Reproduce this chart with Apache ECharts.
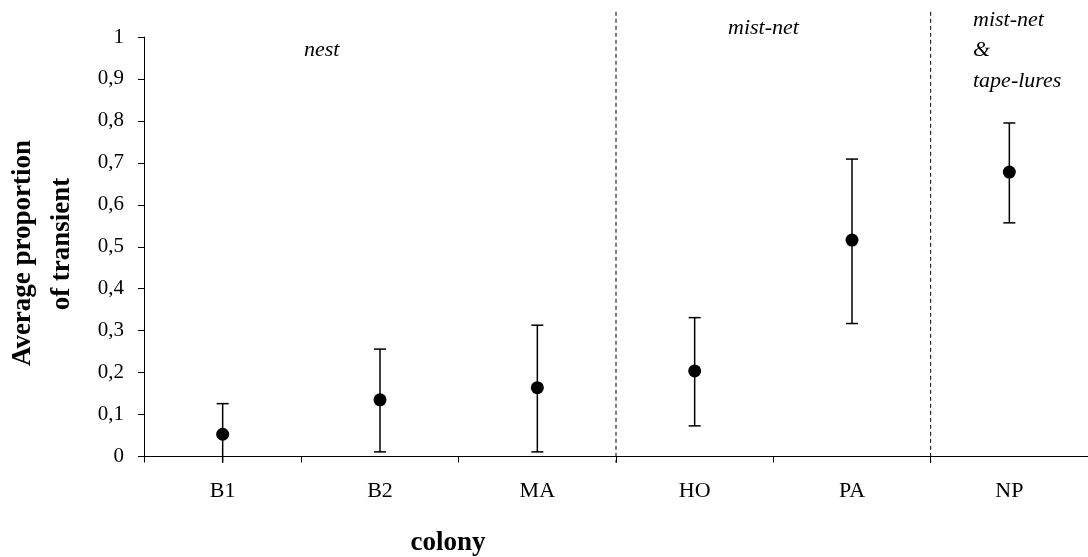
<!DOCTYPE html>
<html>
<head>
<meta charset="utf-8">
<script src="https://cdn.jsdelivr.net/npm/echarts@6/dist/echarts.min.js"></script>
<style>html,body{margin:0;padding:0;background:#fff}#c{width:1088px;height:557px}</style>
</head>
<body>
<div id="c"></div>
<script>
const categories = ['B1', 'B2', 'MA', 'HO', 'PA', 'NP'];
const means = [0.053, 0.135, 0.164, 0.204, 0.516, 0.678];
const upper = [0.126, 0.256, 0.313, 0.331, 0.709, 0.795];
const lower = [-0.015, 0.011, 0.011, 0.073, 0.317, 0.557];
const yTickLabels = ['0', '0,1', '0,2', '0,3', '0,4', '0,5', '0,6', '0,7', '0,8', '0,9', '1'];
const separatorsAfter = ['MA', 'PA'];
const yTitleLines = ['Average proportion', 'of transient'];
const xTitle = 'colony';
const groupLabels = ['nest', 'mist-net', 'mist-net', '&', 'tape-lures'];

const SERIF = '"Liberation Serif", "Times New Roman", serif';
const chart = echarts.init(document.getElementById('c'), null, {renderer: 'canvas'});

const errData = categories.map((c, i) => [i, lower[i], upper[i]]);
const sepData = separatorsAfter.map(c => [categories.indexOf(c), 1.06, -0.015]);

chart.setOption({
  animation: false,
  backgroundColor: '#fff',
  grid: {left: 144, top: 37, width: 950, height: 419.5, containLabel: false},
  xAxis: {
    type: 'category',
    data: categories,
    boundaryGap: true,
    axisLine: {lineStyle: {color: '#000', width: 1}},
    axisTick: {show: true, length: 6, alignWithLabel: false, lineStyle: {color: '#000'}},
    axisLabel: {color: '#000', fontFamily: SERIF, fontSize: 22, margin: 24},
    splitLine: {show: false}
  },
  yAxis: {
    type: 'value',
    min: 0, max: 1, interval: 0.1,
    axisLine: {show: true, lineStyle: {color: '#000', width: 1}},
    axisTick: {show: true, length: 6, lineStyle: {color: '#000'}},
    axisLabel: {color: '#000', fontFamily: SERIF, fontSize: 21, margin: 20,
      formatter: v => yTickLabels[Math.round(v * 10)]},
    splitLine: {show: false}
  },
  series: [
    {
      type: 'custom',
      clip: false,
      data: sepData,
      encode: {x: 0, y: [1, 2]},
      renderItem: (params, api) => {
        const idx = api.value(0);
        const band = api.size([1, 0])[0];
        const top = api.coord([idx, api.value(1)]);
        const bot = api.coord([idx, api.value(2)]);
        const x = top[0] + band / 2;
        return {type: 'line', shape: {x1: x, y1: top[1], x2: x, y2: bot[1]},
          style: {stroke: '#000', lineWidth: 1, lineDash: [4, 3]}};
      },
      z: 1
    },
    {
      type: 'custom',
      clip: false,
      data: errData,
      encode: {x: 0, y: [1, 2]},
      renderItem: (params, api) => {
        const i = api.value(0);
        const lo = api.value(1), hi = api.value(2);
        const pLo = api.coord([i, lo]);
        const pHi = api.coord([i, hi]);
        const cw = 6;
        const st = {stroke: '#000', lineWidth: 1.5};
        const children = [
          {type: 'line', shape: {x1: pLo[0], y1: pLo[1], x2: pHi[0], y2: pHi[1]}, style: st},
          {type: 'line', shape: {x1: pHi[0] - cw, y1: pHi[1], x2: pHi[0] + cw, y2: pHi[1]}, style: st}
        ];
        if (lo >= 0) children.push({type: 'line', shape: {x1: pLo[0] - cw, y1: pLo[1], x2: pLo[0] + cw, y2: pLo[1]}, style: st});
        return {type: 'group', children};
      },
      z: 2
    },
    {
      type: 'scatter',
      data: means,
      symbol: 'circle',
      symbolSize: 13,
      itemStyle: {color: '#000', opacity: 1},
      z: 3
    }
  ],
  graphic: [
    {type: 'text', x: 23, y: 253, rotation: Math.PI / 2,
      style: {text: yTitleLines[0], font: 'bold 27px ' + SERIF, fill: '#000', textAlign: 'center', textVerticalAlign: 'middle'}},
    {type: 'text', x: 62, y: 244, rotation: Math.PI / 2,
      style: {text: yTitleLines[1], font: 'bold 27px ' + SERIF, fill: '#000', textAlign: 'center', textVerticalAlign: 'middle'}},
    {type: 'text', x: 448, y: 543,
      style: {text: xTitle, font: 'bold 27px ' + SERIF, fill: '#000', textAlign: 'center', textVerticalAlign: 'middle'}},
    {type: 'text', x: 304, y: 50,
      style: {text: groupLabels[0], font: 'italic 22px ' + SERIF, fill: '#000', textAlign: 'left', textVerticalAlign: 'middle'}},
    {type: 'text', x: 728, y: 28,
      style: {text: groupLabels[1], font: 'italic 22px ' + SERIF, fill: '#000', textAlign: 'left', textVerticalAlign: 'middle'}},
    {type: 'text', x: 973, y: 20,
      style: {text: groupLabels[2], font: 'italic 22px ' + SERIF, fill: '#000', textAlign: 'left', textVerticalAlign: 'middle'}},
    {type: 'text', x: 973, y: 50,
      style: {text: groupLabels[3], font: 'italic 22px ' + SERIF, fill: '#000', textAlign: 'left', textVerticalAlign: 'middle'}},
    {type: 'text', x: 973, y: 81,
      style: {text: groupLabels[4], font: 'italic 22px ' + SERIF, fill: '#000', textAlign: 'left', textVerticalAlign: 'middle'}}
  ]
});
</script>
</body>
</html>
